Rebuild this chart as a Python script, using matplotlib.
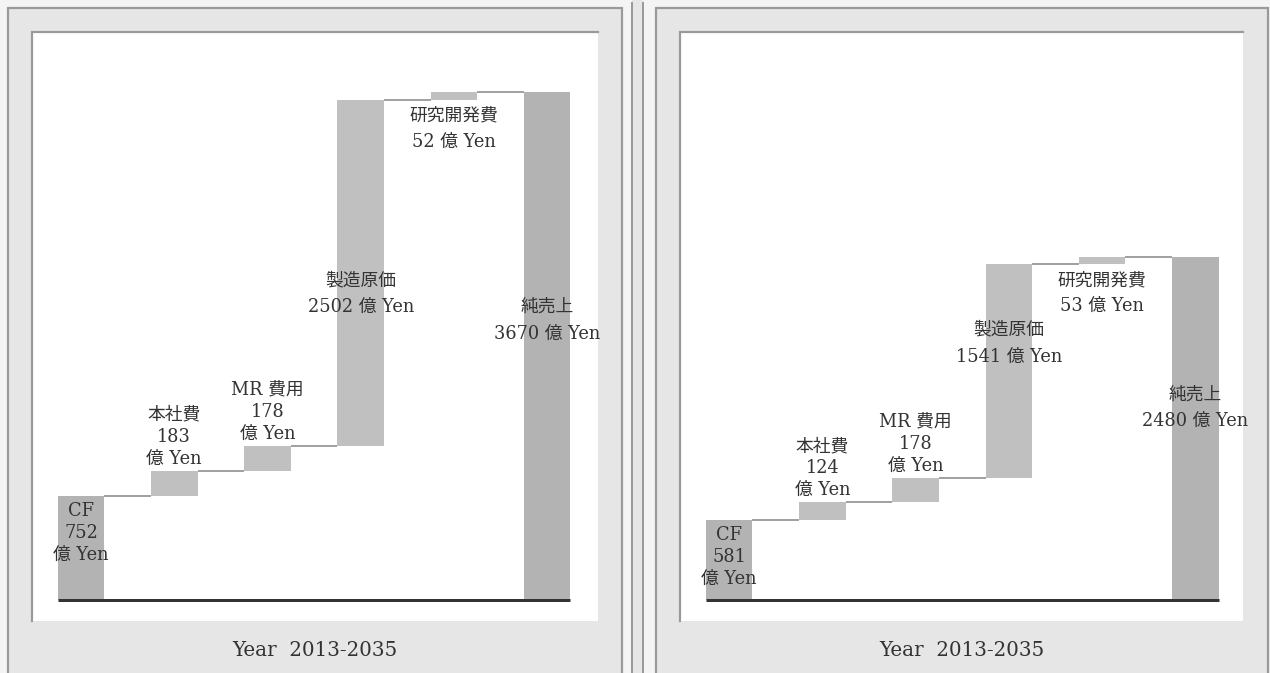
import matplotlib
matplotlib.use("Agg")
import matplotlib.pyplot as plt
from matplotlib.patches import Rectangle

# ---- data ----
categories = ['CF', '本社費', 'MR 費用', '製造原価', '研究開発費', '純売上']
left_values = [752, 183, 178, 2502, 52, 3670]
right_values = [581, 124, 178, 1541, 53, 2480]
unit = '億 Yen'
xlabel_text = 'Year  2013-2035'

# ---- layout (pixels) ----
W, H = 1270, 673
PX = 0.72  # points per pixel at dpi 100
FONT = ['DejaVu Serif', 'Noto Sans CJK JP']
TXT = '#333333'
EDGE = '#9a9a9a'
LABEL_FS = 12.8

panels = [
    dict(values=left_values, outer=(8, 622), inner=(33, 598), xmax=5.545,
         big_frac={3: 0.44, 5: 0.55}),
    dict(values=right_values, outer=(656, 1268), inner=(681, 1243), xmax=5.51,
         big_frac={3: 0.63, 5: 0.56}),
]
inner_top, inner_bot = 33, 621

fig = plt.figure(figsize=(W / 100, H / 100), dpi=100, facecolor='#f4f4f4')
bg = fig.add_axes([0, 0, 1, 1])
bg.set_xlim(0, W)
bg.set_ylim(H, 0)
bg.axis('off')

# separator between panels
bg.add_patch(Rectangle((632, -5), 11, H + 10, facecolor='#e6e6e6', edgecolor='none'))
for xx in (632, 643):
    bg.plot([xx, xx], [2, H + 5], color=EDGE, lw=2 * PX, solid_capstyle='butt')

for p in panels:
    x0, x1 = p['outer']
    bg.add_patch(Rectangle((x0, 8), x1 - x0, H + 10, facecolor='#e6e6e6', edgecolor='none'))
    bg.plot([x0, x0, x1, x1], [H + 5, 8, 8, H + 5], color=EDGE, lw=2.2 * PX,
            solid_joinstyle='miter')
    i0, i1 = p['inner']
    bg.add_patch(Rectangle((i0 - 1, inner_top - 1), i1 - i0 + 1, inner_bot - inner_top + 1,
                           facecolor='white', edgecolor='none'))
    bg.plot([i0 - 1, i0 - 1, i1], [inner_bot, inner_top - 1, inner_top - 1], color=EDGE,
            lw=2.2 * PX, solid_joinstyle='miter')
    bg.text((x0 + x1) / 2, 650, xlabel_text, ha='center', va='center', fontsize=14.3,
            family=FONT, color=TXT)


def put_lines(ax, x, y, lines, first_dy_px, spacing_px):
    for k, line in enumerate(lines):
        dy = -(first_dy_px + k * spacing_px) * PX
        ax.annotate(line, xy=(x, y), xytext=(0, dy), textcoords='offset points',
                    ha='center', va='center', fontsize=LABEL_FS, family=FONT, color=TXT,
                    annotation_clip=False)


for p in panels:
    vals = p['values']
    i0, i1 = p['inner']
    ax = fig.add_axes([i0 / W, 1 - inner_bot / H, (i1 - i0) / W, (inner_bot - inner_top) / H])
    ax.set_xlim(-0.515, p['xmax'])
    ax.set_ylim(-152, 4096)
    ax.axis('off')
    ax.patch.set_alpha(0)

    n = len(vals)
    bottoms, tops = [], []
    run = 0
    for i, v in enumerate(vals):
        if i == 0 or i == n - 1:
            b = 0
        else:
            b = run
        bottoms.append(b)
        tops.append(b + v)
        run = b + v
    colors = ['#b3b3b3' if (i == 0 or i == n - 1) else '#c0c0c0' for i in range(n)]
    ax.bar(range(n), vals, bottom=bottoms, width=0.5, color=colors, edgecolor='none', zorder=2)

    # connectors
    for i in range(n - 1):
        ax.plot([i + 0.25, i + 0.75], [tops[i], tops[i]], color='#8c8c8c', lw=1.6 * PX,
                zorder=1, solid_capstyle='butt')
    # baseline
    ax.plot([-0.25, n - 1 + 0.25], [0, 0], color='#333333', lw=3 * PX, zorder=3,
            solid_capstyle='butt')

    # labels
    for i, (c, v) in enumerate(zip(categories, vals)):
        if i == 0:
            put_lines(ax, i, tops[i], [c, str(v), unit], 15, 22)
        elif i in (1, 2):
            put_lines(ax, i, tops[i], [c, str(v), unit], -12 - 44, 22)
        elif i == 4:
            put_lines(ax, i, bottoms[i], [c, f'{v} {unit}'], 16, 26)
        else:
            yc = bottoms[i] + p['big_frac'][i] * v
            put_lines(ax, i, yc, [c, f'{v} {unit}'], -13.5, 27)

fig.savefig('out.png', dpi=100, facecolor=fig.get_facecolor())
